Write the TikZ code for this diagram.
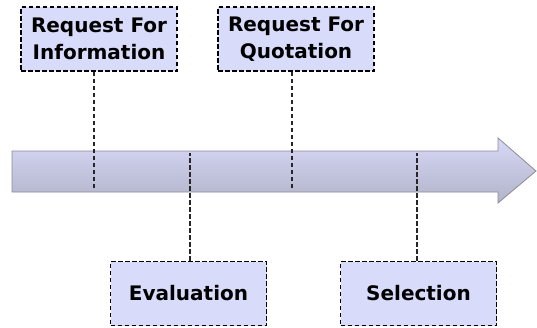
\documentclass[tikz,border=0pt]{standalone}
\usepackage{fontspec}
\setmainfont{DejaVu Sans}
\definecolor{boxfill}{RGB}{216,219,250}
\definecolor{bartop}{RGB}{214,216,246}
\definecolor{barbot}{RGB}{178,180,202}
\definecolor{baredge}{RGB}{140,140,150}
\tikzset{
  phase/.style={draw=black, fill=boxfill, line width=1.6pt,
    dash pattern=on 4.5pt off 2.5pt, minimum width=156pt, minimum height=64pt,
    inner sep=0pt, align=center, font=\fontsize{20}{27}\selectfont\bfseries},
  link/.style={draw=black!85, line width=1.2pt, dash pattern=on 4.5pt off 2.5pt}
}
\begin{document}
\begin{tikzpicture}[x=1pt, y=-1pt]
  \useasboundingbox (0,0) rectangle (537,327);
  % timeline arrow
  \path[draw=baredge, line width=0.8pt, top color=bartop, bottom color=barbot]
    (12,151) -- (498,151) -- (498,138) -- (536,171) -- (498,203)
    -- (498,192) -- (12,192) -- cycle;
  % milestone boxes
  \node[phase] (rfi) at (99,39) {Request For\\Information};
  \node[phase] (rfq) at (296,39) {Request For\\Quotation};
  \node[phase] (eval) at (188.5,293.5) {Evaluation};
  \node[phase] (sel) at (418.5,293.5) {Selection};
  % anchor points on the timeline
  \coordinate (rfiend) at (94,190);
  \coordinate (rfqend) at (292,190);
  \coordinate (evalend) at (190,153);
  \coordinate (selend) at (417,153);
  % connectors
  \draw[link] (rfi.south -| rfiend) -- (rfiend);
  \draw[link] (rfq.south -| rfqend) -- (rfqend);
  \draw[link] (eval.north -| evalend) -- (evalend);
  \draw[link] (sel.north -| selend) -- (selend);
\end{tikzpicture}
\end{document}
